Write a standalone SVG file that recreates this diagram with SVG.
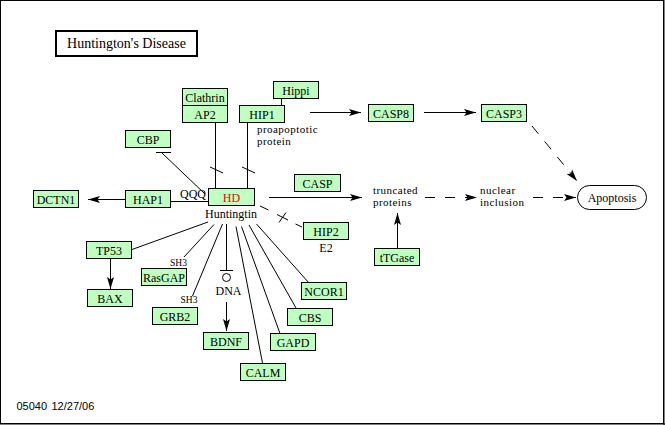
<svg xmlns="http://www.w3.org/2000/svg" width="665" height="425" viewBox="0 0 665 425">
  <style>
    .bg { fill: #ffffff; }
    .node rect { fill: #bfffbf; stroke: #000000; stroke-width: 1; }
    .node text, .lbl { font-family: "Liberation Serif", "Times New Roman", serif; font-size: 12px; fill: #000000; }
    .node text { text-anchor: middle; }
    .two { font-family: "Liberation Serif", "Times New Roman", serif; font-size: 11px; letter-spacing: 0.45px; fill: #000000; }
    .small { font-family: "Liberation Serif", "Times New Roman", serif; font-size: 9.5px; fill: #000000; }
    .edges line, .edges path { stroke: #000000; stroke-width: 1; fill: none; }
    .edges .dash { stroke-dasharray: 10 10; }
    .foot { font-family: "Liberation Sans", Arial, sans-serif; font-size: 11px; fill: #000000; }
  </style>
  <defs>
    <marker id="arrow" markerUnits="userSpaceOnUse" markerWidth="12" markerHeight="8" refX="12" refY="4" orient="auto">
      <path d="M0,0.5 L12,4 L0,7.5 L2.5,4 Z" fill="#000000"/>
    </marker>
  </defs>

  <!-- page -->
  <rect class="bg" x="0" y="0" width="665" height="425"/>
  <rect x="0.5" y="0.5" width="663" height="423" fill="none" stroke="#000000" stroke-width="1"/>
  <line x1="664" y1="0" x2="664" y2="425" stroke="#000000" stroke-width="1"/>
  <line x1="0" y1="424" x2="665" y2="424" stroke="#000000" stroke-width="1"/>

  <!-- title -->
  <g id="title">
    <rect x="56" y="31" width="141" height="25" fill="#ffffff" stroke="#000000" stroke-width="2"/>
    <text x="126.5" y="48" text-anchor="middle" font-family="'Liberation Serif', 'Times New Roman', serif" font-size="14px">Huntington's Disease</text>
  </g>

  <!-- connectors -->
  <g class="edges">
    <!-- AP2 / HIP1 to HD with binding ticks -->
    <line x1="215.5" y1="122" x2="215.5" y2="188"/>
    <line x1="210" y1="167" x2="223" y2="173"/>
    <line x1="247.5" y1="122" x2="247.5" y2="188"/>
    <line x1="242" y1="167" x2="255" y2="173"/>
    <!-- Hippi - HIP1 -->
    <line x1="281.5" y1="98" x2="281.5" y2="105"/>
    <!-- CBP inhibition -->
    <line x1="156" y1="152.5" x2="171" y2="152.5"/>
    <line x1="162" y1="153" x2="205" y2="194"/>
    <!-- HAP1 -->
    <line x1="171" y1="201.5" x2="208" y2="201.5"/>
    <line x1="125" y1="199.5" x2="88" y2="199.5" marker-end="url(#arrow)"/>
    <!-- HIP1 -> CASP8 -> CASP3 -->
    <line x1="310" y1="112.5" x2="361" y2="112.5" marker-end="url(#arrow)"/>
    <line x1="424" y1="112.5" x2="476" y2="112.5" marker-end="url(#arrow)"/>
    <line class="dash" x1="532" y1="126" x2="577" y2="181" marker-end="url(#arrow)"/>
    <!-- HD -> truncated proteins -> nuclear inclusion -> Apoptosis -->
    <line x1="269" y1="197.5" x2="362" y2="197.5" marker-end="url(#arrow)"/>
    <line class="dash" x1="425" y1="197.5" x2="477" y2="197.5" marker-end="url(#arrow)"/>
    <line class="dash" x1="533" y1="197.5" x2="576" y2="197.5" marker-end="url(#arrow)"/>
    <!-- tTGase -> truncated proteins -->
    <line x1="397.5" y1="248" x2="397.5" y2="213" marker-end="url(#arrow)"/>
    <!-- HD - HIP2 (indirect, crossed) -->
    <line x1="260" y1="206" x2="268.5" y2="210"/>
    <line x1="277" y1="214.5" x2="288" y2="220"/>
    <line x1="279" y1="222.5" x2="286" y2="212.5"/>
    <line x1="295.5" y1="224" x2="302" y2="227"/>
    <!-- Huntingtin fan -->
    <line x1="208" y1="222" x2="132" y2="249.5"/>
    <line x1="214" y1="224.5" x2="184" y2="257"/>
    <line x1="222.5" y1="224" x2="192.5" y2="296"/>
    <line x1="226.5" y1="224" x2="226.5" y2="270"/>
    <line x1="220" y1="270.5" x2="233" y2="270.5"/>
    <line x1="236" y1="226.5" x2="262.5" y2="363"/>
    <line x1="241.5" y1="226.5" x2="280" y2="333.5"/>
    <line x1="249" y1="225" x2="296" y2="308"/>
    <line x1="256.5" y1="224" x2="309" y2="283"/>
    <!-- TP53 -> BAX, DNA -> BDNF -->
    <line x1="110.5" y1="258" x2="110.5" y2="289" marker-end="url(#arrow)"/>
    <line x1="226.5" y1="302" x2="226.5" y2="331" marker-end="url(#arrow)"/>
  </g>
  <circle cx="226.5" cy="277.5" r="4" fill="none" stroke="#000000" stroke-width="1"/>

  <!-- nodes -->
  <g id="clathrin" class="node"><rect x="182.5" y="88.5" width="45" height="17"/><text x="205" y="102">Clathrin</text></g>
  <g id="ap2" class="node"><rect x="182.5" y="105.5" width="45" height="17"/><text x="205" y="119">AP2</text></g>
  <g id="hippi" class="node"><rect x="273.5" y="81.5" width="45" height="17"/><text x="296" y="95">Hippi</text></g>
  <g id="hip1" class="node"><rect x="239.5" y="105.5" width="45" height="17"/><text x="262" y="119">HIP1</text></g>
  <g id="cbp" class="node"><rect x="125.5" y="130.5" width="45" height="17"/><text x="148" y="144">CBP</text></g>
  <g id="hd" class="node"><rect x="208.5" y="188.5" width="46" height="17"/><text x="231.5" y="202" style="fill:#ff0000">HD</text></g>
  <g id="casp" class="node"><rect x="294.5" y="174.5" width="46" height="17"/><text x="317.5" y="188">CASP</text></g>
  <g id="casp8" class="node"><rect x="368.5" y="104.5" width="45" height="17"/><text x="391" y="118">CASP8</text></g>
  <g id="casp3" class="node"><rect x="481.5" y="104.5" width="45" height="17"/><text x="504" y="118">CASP3</text></g>
  <g id="dctn1" class="node"><rect x="33.5" y="190.5" width="45" height="17"/><text x="56" y="204">DCTN1</text></g>
  <g id="hap1" class="node"><rect x="125.5" y="190.5" width="45" height="17"/><text x="148" y="204">HAP1</text></g>
  <g id="tp53" class="node"><rect x="86.5" y="241.5" width="45" height="17"/><text x="109" y="255">TP53</text></g>
  <g id="bax" class="node"><rect x="87.5" y="289.5" width="45" height="17"/><text x="110" y="303">BAX</text></g>
  <g id="rasgap" class="node"><rect x="141.5" y="268.5" width="45" height="17"/><text x="164" y="282">RasGAP</text></g>
  <g id="grb2" class="node"><rect x="152.5" y="307.5" width="45" height="17"/><text x="175" y="321">GRB2</text></g>
  <g id="bdnf" class="node"><rect x="203.5" y="332.5" width="45" height="17"/><text x="226" y="346">BDNF</text></g>
  <g id="calm" class="node"><rect x="240.5" y="363.5" width="45" height="17"/><text x="263" y="377">CALM</text></g>
  <g id="gapd" class="node"><rect x="270.5" y="333.5" width="45" height="17"/><text x="293" y="347">GAPD</text></g>
  <g id="cbs" class="node"><rect x="287.5" y="308.5" width="45" height="17"/><text x="310" y="322">CBS</text></g>
  <g id="ncor1" class="node"><rect x="301.5" y="282.5" width="45" height="17"/><text x="324" y="296">NCOR1</text></g>
  <g id="hip2" class="node"><rect x="303.5" y="222.5" width="45" height="17"/><text x="326" y="236">HIP2</text></g>
  <g id="ttgase" class="node"><rect x="374.5" y="248.5" width="45" height="17"/><text x="397" y="262">tTGase</text></g>
  <g id="apoptosis"><rect x="577.5" y="185.5" width="69" height="24" rx="12" ry="12" fill="#ffffff" stroke="#000000" stroke-width="1"/><text class="lbl" x="612" y="202" text-anchor="middle">Apoptosis</text></g>

  <!-- free labels -->
  <g id="labels">
    <text class="lbl" x="231" y="217.5" text-anchor="middle">Huntingtin</text>
    <text class="two" x="257" y="132.5">proapoptotic</text>
    <text class="two" x="257" y="145">protein</text>
    <text class="two" x="373" y="193.5">truncated</text>
    <text class="two" x="373" y="206">proteins</text>
    <text class="two" x="480" y="193.5">nuclear</text>
    <text class="two" x="480" y="206">inclusion</text>
    <text class="lbl" x="326" y="251.5" text-anchor="middle">E2</text>
    <text class="lbl" x="228.5" y="294.5" text-anchor="middle">DNA</text>
    <text class="lbl" x="180" y="197.5" font-size="9px">QQQ</text>
    <text class="small" x="170" y="265.5">SH3</text>
    <text class="small" x="180.5" y="302.5">SH3</text>
    <text class="foot" x="16.5" y="410">05040<tspan x="51.5">12/27/06</tspan></text>
  </g>
</svg>
